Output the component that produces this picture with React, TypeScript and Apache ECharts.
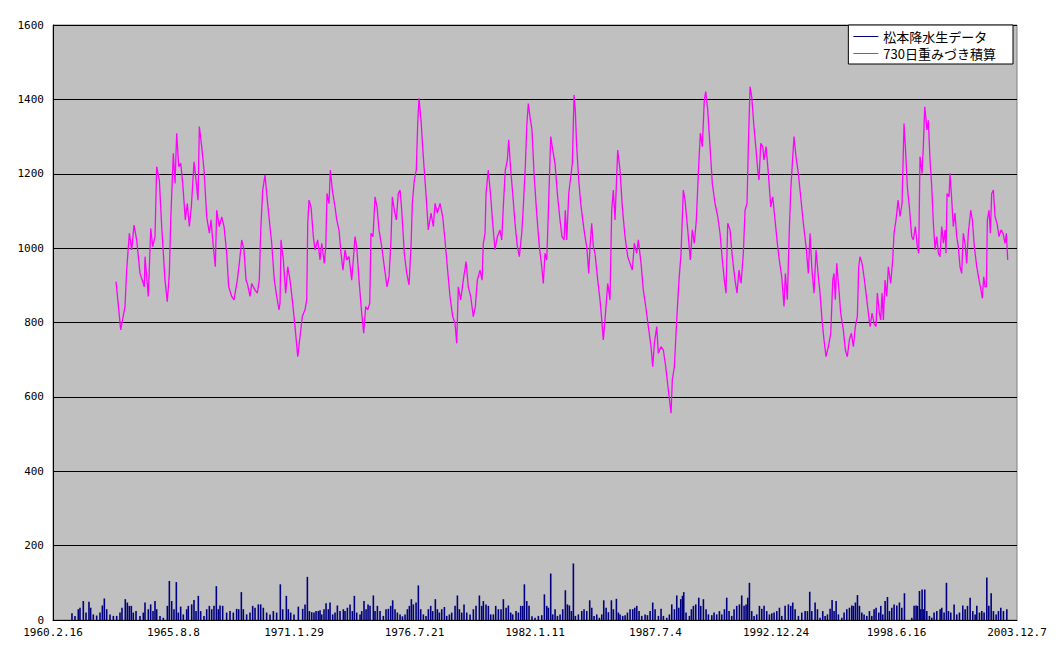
import React, { useEffect, useRef } from "react";
import * as echarts from "echarts";

// Day index 0 = 1960.2.16 (Excel category axis of daily values)
const START_UTC = Date.UTC(1960, 1, 16);
const X_MAX = 16000;
const X_STEP = 2000;
const Y_MAX = 1600;
const Y_STEP = 200;

const seriesNames = ["松本降水生データ", "730日重みづき積算"];

// [day index, daily precipitation mm] (peaks and typical levels)
const rainPoints: [number, number][] = [
  [315, 18], [365, 11], [420, 29], [448, 33], [503, 51], [548, 20], [597, 49], [625, 33], [669, 15], [725, 12],
  [780, 20], [819, 39], [852, 58], [891, 29], [946, 15], [1001, 11], [1057, 11], [1112, 20], [1145, 33], [1200, 56],
  [1234, 47], [1267, 38], [1300, 38], [1333, 20], [1378, 24], [1444, 11], [1499, 20], [1527, 47], [1582, 29], [1621, 42],
  [1660, 24], [1693, 51], [1721, 29], [1776, 11], [1831, 6], [1898, 38], [1931, 105], [1970, 51], [2008, 29], [2047, 102],
  [2080, 20], [2119, 36], [2163, 15], [2219, 29], [2246, 38], [2302, 42], [2340, 54], [2374, 24], [2412, 65], [2451, 24],
  [2506, 11], [2551, 29], [2595, 38], [2634, 29], [2672, 38], [2711, 91], [2744, 29], [2772, 39], [2816, 38], [2882, 20],
  [2938, 24], [2993, 20], [3048, 30], [3082, 29], [3126, 75], [3159, 29], [3214, 15], [3270, 20], [3314, 38], [3353, 33],
  [3408, 42], [3447, 42], [3491, 33], [3546, 20], [3602, 15], [3657, 24], [3712, 20], [3773, 96], [3812, 29], [3873, 65],
  [3906, 29], [3945, 20], [4000, 15], [4072, 36], [4144, 30], [4183, 42], [4222, 116], [4255, 24], [4294, 21], [4332, 20],
  [4366, 24], [4404, 24], [4432, 26], [4460, 15], [4498, 29], [4532, 45], [4570, 29], [4598, 47], [4642, 15], [4681, 20],
  [4720, 39], [4764, 24], [4819, 29], [4847, 24], [4886, 33], [4930, 42], [4969, 24], [5002, 65], [5041, 20], [5096, 15],
  [5124, 24], [5162, 51], [5196, 29], [5229, 42], [5262, 38], [5317, 66], [5345, 24], [5384, 38], [5428, 24], [5483, 11],
  [5527, 29], [5566, 30], [5605, 38], [5638, 53], [5677, 29], [5716, 20], [5760, 15], [5800, 10], [5843, 15], [5882, 29],
  [5915, 38], [5948, 56], [5981, 42], [6026, 47], [6064, 93], [6103, 29], [6147, 15], [6191, 11], [6230, 29], [6269, 38],
  [6302, 24], [6346, 56], [6380, 29], [6413, 20], [6452, 29], [6496, 35], [6535, 11], [6579, 15], [6618, 20], [6673, 38],
  [6712, 66], [6745, 29], [6784, 20], [6822, 42], [6867, 20], [6922, 15], [6977, 29], [7021, 38], [7077, 66], [7115, 38],
  [7143, 51], [7187, 42], [7226, 38], [7265, 15], [7309, 15], [7348, 38], [7392, 29], [7436, 29], [7475, 56], [7520, 33],
  [7558, 39], [7597, 20], [7630, 15], [7685, 24], [7724, 20], [7763, 38], [7796, 38], [7824, 96], [7863, 51], [7901, 38],
  [7950, 10], [8001, 6], [8056, 11], [8112, 13], [8156, 69], [8195, 38], [8222, 33], [8261, 125], [8294, 15], [8333, 29],
  [8372, 11], [8416, 15], [8460, 29], [8504, 80], [8538, 42], [8571, 39], [8604, 24], [8637, 152], [8670, 11], [8720, 15],
  [8776, 24], [8814, 29], [8859, 24], [8908, 53], [8942, 33], [8980, 11], [9025, 15], [9069, 6], [9108, 15], [9141, 53],
  [9180, 33], [9218, 21], [9268, 53], [9301, 29], [9351, 57], [9384, 20], [9412, 15], [9456, 11], [9495, 13], [9534, 20],
  [9578, 29], [9622, 29], [9655, 33], [9689, 38], [9727, 24], [9772, 11], [9827, 15], [9866, 13], [9910, 24], [9954, 47],
  [9993, 29], [10048, 11], [10092, 30], [10131, 11], [10187, 6], [10231, 15], [10270, 42], [10314, 29], [10353, 66], [10386, 33],
  [10419, 56], [10447, 65], [10469, 75], [10507, 20], [10563, 11], [10596, 29], [10629, 38], [10668, 42], [10718, 60], [10751, 38],
  [10795, 56], [10839, 29], [10878, 15], [10934, 13], [10972, 20], [11016, 15], [11061, 24], [11100, 15], [11144, 29], [11182, 60],
  [11221, 24], [11265, 11], [11304, 29], [11348, 38], [11393, 42], [11431, 66], [11470, 38], [11503, 42], [11531, 60], [11559, 100],
  [11597, 24], [11636, 11], [11680, 15], [11725, 38], [11764, 30], [11802, 38], [11846, 24], [11891, 15], [11930, 18], [11968, 20],
  [12013, 24], [12057, 33], [12096, 11], [12151, 38], [12206, 42], [12245, 38], [12278, 47], [12317, 29], [12372, 11], [12428, 20],
  [12483, 24], [12522, 24], [12560, 76], [12594, 24], [12649, 47], [12688, 29], [12732, 6], [12776, 24], [12815, 11], [12854, 15],
  [12898, 30], [12931, 54], [12964, 24], [12998, 51], [13036, 15], [13092, 6], [13130, 20], [13175, 29], [13219, 33], [13258, 39],
  [13285, 38], [13318, 47], [13352, 67], [13385, 38], [13424, 20], [13462, 15], [13507, 11], [13551, 24], [13590, 11], [13628, 29],
  [13661, 33], [13706, 20], [13739, 38], [13772, 15], [13811, 51], [13850, 62], [13883, 24], [13922, 33], [13960, 42], [14005, 39],
  [14049, 47], [14088, 33], [14132, 72], [14254, 6], [14292, 38], [14325, 39], [14348, 38], [14381, 78], [14403, 29], [14425, 82],
  [14447, 29], [14469, 82], [14503, 24], [14547, 11], [14586, 6], [14624, 20], [14669, 24], [14724, 29], [14751, 33], [14790, 20],
  [14829, 100], [14862, 24], [14901, 20], [14956, 42], [15000, 15], [15045, 20], [15100, 39], [15139, 29], [15178, 38], [15222, 60],
  [15266, 24], [15305, 15], [15333, 38], [15377, 20], [15416, 24], [15454, 20], [15499, 114], [15532, 38], [15571, 72], [15609, 24],
  [15654, 15], [15692, 24], [15731, 33], [15775, 24], [15831, 29],
];

// [day index, 730-day weighted accumulation mm]
const accPoints: [number, number][] = [
  [1046, 910], [1124, 780], [1195, 843], [1223, 941], [1267, 1040], [1306, 995], [1345, 1062], [1389, 1022], [1444, 932], [1516, 896],
  [1527, 977], [1582, 870], [1622, 1053], [1655, 1004], [1693, 1031], [1721, 1219], [1765, 1183], [1804, 1058], [1859, 914], [1897, 856],
  [1931, 932], [1954, 1076], [1997, 1255], [2025, 1174], [2053, 1309], [2087, 1219], [2120, 1228], [2153, 1174], [2196, 1076], [2229, 1120],
  [2263, 1058], [2296, 1111], [2341, 1232], [2374, 1183], [2407, 1129], [2429, 1327], [2468, 1273], [2507, 1210], [2551, 1084], [2595, 1040],
  [2623, 1076], [2661, 1004], [2694, 950], [2717, 1102], [2761, 1058], [2800, 1084], [2839, 1058], [2883, 986], [2916, 896], [2966, 870],
  [3004, 861], [3059, 914], [3092, 959], [3132, 1022], [3170, 995], [3204, 914], [3225, 905], [3270, 870], [3298, 905], [3353, 887],
  [3391, 879], [3424, 914], [3448, 1049], [3481, 1156], [3519, 1197], [3557, 1129], [3590, 1076],
  [3630, 1013], [3673, 914], [3713, 870], [3751, 834], [3768, 852], [3784, 1022], [3823, 968], [3862, 879], [3896, 950], [3934, 914],
  [3972, 861], [4017, 789], [4062, 708], [4100, 762], [4138, 816], [4183, 834], [4211, 861], [4228, 1067], [4249, 1129], [4283, 1111],
  [4321, 1031], [4349, 995], [4393, 1022], [4432, 968], [4460, 1013], [4503, 959], [4527, 1004], [4548, 1147], [4581, 1120], [4603, 1210],
  [4636, 1156], [4681, 1111], [4709, 1076], [4747, 1049], [4780, 986], [4813, 941], [4847, 995], [4880, 968], [4913, 977], [4958, 914],
  [4984, 968], [5013, 1031], [5041, 1004], [5079, 914], [5124, 825], [5157, 771], [5190, 843], [5224, 834], [5257, 852], [5278, 1040],
  [5311, 1031], [5345, 1138], [5378, 1111], [5411, 1049], [5456, 1004], [5499, 950], [5544, 896], [5577, 923], [5610, 1022], [5632, 1138],
  [5665, 1102], [5698, 1076], [5731, 1147], [5760, 1156], [5788, 1102], [5831, 986], [5871, 932], [5909, 901], [5942, 1004], [5964, 1120],
  [5997, 1183], [6030, 1210], [6053, 1335], [6075, 1403], [6108, 1344], [6146, 1246], [6186, 1156], [6229, 1049], [6274, 1094], [6313, 1058],
  [6341, 1120], [6379, 1094], [6424, 1120], [6468, 1085], [6506, 1022], [6545, 950], [6589, 870], [6634, 816], [6672, 798], [6701, 744],
  [6727, 896], [6767, 861], [6810, 914], [6855, 964], [6893, 896], [6933, 870], [6976, 816], [7010, 843], [7043, 914], [7087, 941],
  [7121, 914], [7142, 1013], [7171, 1040], [7187, 1147], [7225, 1210], [7265, 1138], [7298, 1067], [7336, 995], [7375, 1031], [7419, 1049],
  [7448, 1022], [7474, 1111], [7507, 1210], [7541, 1237], [7564, 1291], [7597, 1210], [7630, 1147], [7668, 1067], [7707, 1004], [7740, 977],
  [7780, 1040], [7806, 1111], [7839, 1219], [7863, 1327], [7889, 1389], [7917, 1353], [7950, 1318], [7984, 1201], [8028, 1094], [8072, 1004],
  [8112, 950], [8138, 905], [8166, 986], [8195, 968], [8221, 1094], [8261, 1300], [8294, 1264], [8332, 1228], [8371, 1147], [8415, 1076],
  [8448, 1031], [8482, 1022], [8503, 1102], [8527, 1022], [8560, 1147], [8593, 1192], [8620, 1228], [8648, 1412], [8669, 1371], [8692, 1273],
  [8726, 1183], [8759, 1120], [8792, 1076], [8830, 1031], [8859, 1004], [8892, 932], [8913, 1004], [8941, 1067], [8968, 1004],
  [8996, 986], [9041, 914], [9079, 861], [9108, 807], [9134, 753], [9162, 807], [9207, 905], [9245, 861], [9273, 1102], [9300, 1156],
  [9328, 1076], [9373, 1264], [9411, 1210], [9449, 1111], [9494, 1031], [9539, 977], [9577, 959], [9615, 941], [9649, 1013], [9688, 986],
  [9715, 1022], [9760, 959], [9798, 887], [9838, 843], [9881, 789], [9926, 735], [9954, 681], [9981, 744], [10020, 789], [10047, 717],
  [10092, 735], [10130, 726], [10170, 681], [10213, 619], [10258, 556], [10279, 646], [10313, 681], [10352, 807], [10390, 914], [10424, 986],
  [10462, 1156], [10490, 1129], [10535, 1049], [10578, 968], [10611, 1049], [10644, 1013], [10678, 1076], [10711, 1201], [10744, 1309], [10777, 1273],
  [10810, 1398], [10834, 1421], [10867, 1371], [10905, 1273], [10943, 1174], [10988, 1120], [11033, 1085], [11071, 1040], [11109, 968], [11143, 914],
  [11170, 879], [11199, 1067], [11237, 1049], [11275, 977], [11320, 914], [11353, 879], [11386, 941], [11420, 905], [11458, 986], [11486, 1102],
  [11519, 1120], [11541, 1273], [11569, 1434], [11597, 1407], [11630, 1335], [11664, 1273], [11697, 1210], [11718, 1183], [11747, 1282],
  [11780, 1273], [11801, 1237], [11835, 1273], [11873, 1201], [11913, 1111], [11946, 1138], [11984, 1076], [12022, 1013], [12055, 968], [12095, 923],
  [12133, 843], [12155, 932], [12188, 861], [12221, 1049], [12245, 1156], [12278, 1246], [12299, 1300], [12332, 1246], [12371, 1201], [12410, 1138],
  [12454, 1067], [12499, 1004], [12537, 932], [12565, 1040], [12593, 950], [12631, 879], [12665, 995], [12703, 923], [12731, 879], [12764, 807],
  [12797, 753], [12830, 708], [12869, 735], [12909, 771], [12942, 914], [12963, 932], [12985, 861], [13008, 959], [13041, 896], [13074, 825],
  [13118, 780], [13151, 726], [13184, 708], [13217, 753], [13250, 771], [13284, 735], [13317, 789], [13350, 816], [13373, 950], [13395, 977],
  [13428, 959], [13461, 923], [13494, 879], [13533, 825], [13561, 789], [13594, 825], [13627, 798], [13660, 789], [13682, 879], [13715, 825],
  [13738, 807], [13760, 879], [13782, 807], [13810, 914], [13838, 870], [13865, 950], [13904, 905], [13937, 968], [13959, 1040], [13992, 1076],
  [14026, 1129], [14059, 1085], [14092, 1120], [14125, 1335], [14147, 1273], [14180, 1165], [14213, 1111], [14253, 1031], [14279, 1022], [14313, 1058],
  [14346, 1004], [14369, 986], [14390, 1246], [14424, 1201], [14445, 1273], [14469, 1380],
  [14507, 1318], [14529, 1344], [14556, 1237], [14585, 1165], [14612, 1067], [14640, 995], [14668, 1031], [14695, 986], [14722, 977], [14751, 1058],
  [14778, 1013], [14806, 1049], [14822, 986], [14839, 1147], [14872, 1138], [14888, 1201], [14917, 1129], [14943, 1058], [14971, 1094], [14999, 1031],
  [15026, 1004], [15054, 950], [15082, 932], [15109, 1040], [15137, 1013], [15165, 959], [15192, 1040], [15232, 1102], [15259, 1076], [15292, 1004],
  [15332, 950], [15370, 914], [15403, 887], [15425, 865], [15448, 923], [15469, 896], [15492, 896], [15508, 1076], [15536, 1102], [15558, 1040],
  [15580, 1147], [15608, 1156], [15635, 1085], [15668, 1067], [15702, 1031], [15735, 1049], [15768, 1040], [15801, 1013], [15823, 1040], [15846, 968],
];

function dayLabel(d: number): string {
  const dt = new Date(START_UTC + d * 86400000);
  return `${dt.getUTCFullYear()}.${dt.getUTCMonth() + 1}.${dt.getUTCDate()}`;
}

const AXIS_FONT = "'DejaVu Sans Mono', monospace";
const CJK_FONT = "'Noto Sans CJK JP', sans-serif";

export default function App() {
  const ref = useRef<HTMLDivElement>(null);
  useEffect(() => {
    if (!ref.current) return;
    const chart = echarts.init(ref.current, undefined, { renderer: "svg" });
    chart.setOption({
      animation: false,
      backgroundColor: "#ffffff",
      grid: {
        left: 53,
        right: 41,
        top: 25,
        bottom: 38,
        show: true,
        backgroundColor: "#c0c0c0",
        borderColor: "#808080",
        borderWidth: 1,
      },
      legend: {
        orient: "vertical",
        right: 45,
        top: 25,
        backgroundColor: "#ffffff",
        borderColor: "#000000",
        borderWidth: 1,
        padding: [5, 17, 4, 5],
        itemGap: 4,
        itemWidth: 25,
        itemHeight: 1,
        textStyle: { fontFamily: CJK_FONT, fontSize: 13, color: "#000" },
        data: [
          { name: seriesNames[0], icon: "rect" },
          { name: seriesNames[1], icon: "rect" },
        ],
      },
      xAxis: {
        type: "value",
        min: 0,
        max: X_MAX,
        interval: X_STEP,
        axisLine: { show: true, onZero: false, lineStyle: { color: "#000", width: 1 } },
        axisTick: { show: false },
        splitLine: { show: false },
        axisLabel: {
          formatter: (v: number) => dayLabel(v),
          color: "#000",
          fontFamily: AXIS_FONT,
          fontSize: 11,
          margin: 7,
          showMaxLabel: true,
          showMinLabel: true,
        },
      },
      yAxis: {
        type: "value",
        min: 0,
        max: Y_MAX,
        interval: Y_STEP,
        axisLine: { show: true, lineStyle: { color: "#000", width: 1 } },
        axisTick: { show: false },
        splitLine: { show: true, lineStyle: { color: "#000", width: 1 } },
        axisLabel: {
          formatter: (v: number) => String(v),
          color: "#000",
          fontFamily: AXIS_FONT,
          fontSize: 11,
          margin: 9,
        },
      },
      series: [
        {
          name: seriesNames[0],
          type: "bar",
          data: rainPoints,
          barWidth: 1.6,
          itemStyle: { color: "#000080" },
          emphasis: { disabled: true },
        },
        {
          name: seriesNames[1],
          type: "line",
          data: accPoints,
          symbol: "none",
          lineStyle: { color: "#ff00ff", width: 1.3 },
          itemStyle: { color: "#ff00ff" },
          emphasis: { disabled: true },
        },
      ],
    });
    return () => chart.dispose();
  }, []);
  return (
    <div
      ref={ref}
      style={{ position: "fixed", left: 0, top: 0, width: 1058, height: 658, background: "#fff" }}
    />
  );
}
